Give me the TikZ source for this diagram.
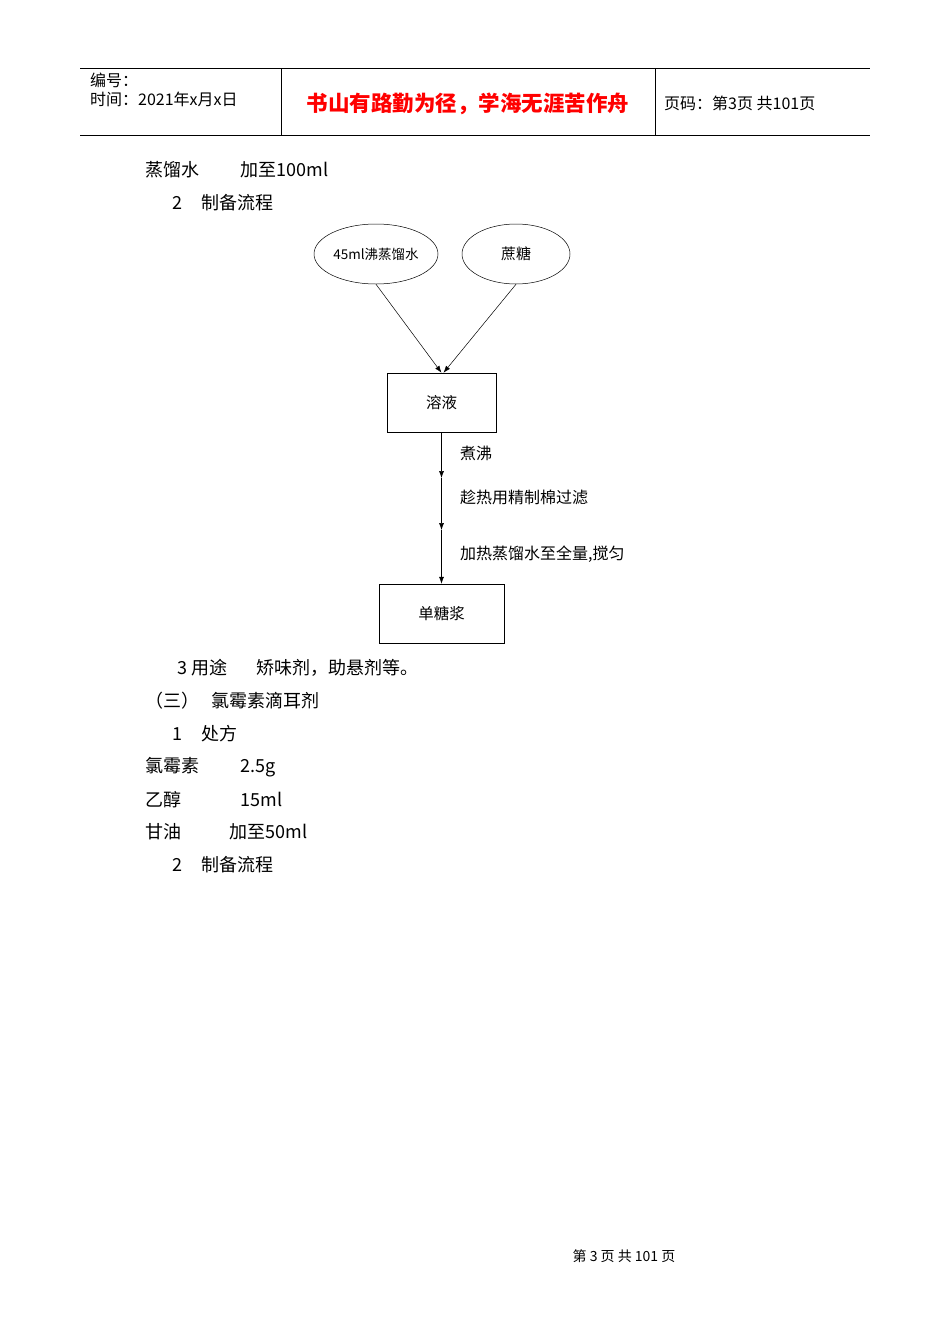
\documentclass[tikz,border=0pt]{standalone}
\usepackage{fontspec}
\setmainfont{Liberation Serif}
\newfontfamily\cjk{Noto Sans CJK SC}
\usetikzlibrary{shapes.geometric,arrows.meta}
\begin{document}
\begin{tikzpicture}[x=1pt,y=-1pt,
  txt/.style={anchor=west,inner sep=0pt,font=\cjk\fontsize{18}{20}\selectfont},
  small/.style={anchor=west,inner sep=0pt,font=\cjk\fontsize{16}{18}\selectfont},
  ell/.style={draw,ellipse,inner sep=0pt,line width=0.5pt},
  bx/.style={draw,line width=0.5pt},
  arr/.style={-{Latex[length=7pt,width=5pt]},line width=0.5pt}]
\useasboundingbox (0,0) rectangle (950,1344);
% header
\draw[line width=0.6pt] (80,68) -- (870,68) (80,135) -- (870,135) (281,68) -- (281,135) (655,68) -- (655,135);
\node[small] (h1) at (90,80) {编号：};
\node[small] (h2) at (90,99) {时间：2021年x月x日};
\node[inner sep=0pt,text=red,font=\cjk\bfseries\fontsize{21.5}{24}\selectfont] (h3) at (468,104) {书山有路勤为径，学海无涯苦作舟};
\node[small] (h4) at (664,103) {页码：第3页\ 共101页};
% body text
\node[txt] (t1) at (145,170) {蒸馏水\hspace{2.3em}加至100ml};
\node[txt] (t2) at (172,203) {2\hspace{1.1em}制备流程};
\node[txt] (t3) at (177,668) {3 用途\hspace{1.6em}矫味剂，助悬剂等。};
\node[txt] (t4) at (145,701) {（三）\hspace{0.7em}氯霉素滴耳剂};
\node[txt] (t5) at (172,734) {1\hspace{1.1em}处方};
\node[txt] (t6) at (145,767) {氯霉素\hspace{2.3em}2.5g};
\node[txt] (t7) at (145,800) {乙醇\hspace{3.3em}15ml};
\node[txt] (t8) at (145,832) {甘油\hspace{2.7em}加至50ml};
\node[txt] (t9) at (172,865) {2\hspace{1.1em}制备流程};
% flow
\node[ell,minimum width=124pt,minimum height=60pt,font=\cjk\fontsize{13.5}{15}\selectfont] (e1) at (376,254) {45ml沸蒸馏水};
\node[ell,minimum width=108pt,minimum height=60pt,font=\cjk\fontsize{15}{17}\selectfont] (e2) at (516,254) {蔗糖};
\node[bx,minimum width=109pt,minimum height=59pt,font=\cjk\fontsize{15.5}{17}\selectfont] (b1) at (441.5,402.5) {溶液};
\node[bx,minimum width=125pt,minimum height=59pt,font=\cjk\fontsize{15.5}{17}\selectfont] (b2) at (441.5,613.5) {单糖浆};
\draw[arr] (e1.south) -- (b1.north);
\draw[arr] (e2.south) -- ([xshift=2pt]b1.north);
\coordinate (c1) at (441.5,478);
\coordinate (c2) at (441.5,530);
\draw[arr] (b1.south) -- (c1);
\draw[arr] (c1) -- (c2);
\draw[arr] (c2) -- (b2.north);
\node[small] (l1) at (460,453) {煮沸};
\node[small] (l2) at (460,497) {趁热用精制棉过滤};
\node[small] (l3) at (460,554) {加热蒸馏水至全量,搅匀};
% footer
\node[inner sep=0pt,font=\cjk\fontsize{14}{16}\selectfont] (f) at (624,1256) {第\ 3\ 页\ 共\ 101\ 页};
\end{tikzpicture}
\end{document}
